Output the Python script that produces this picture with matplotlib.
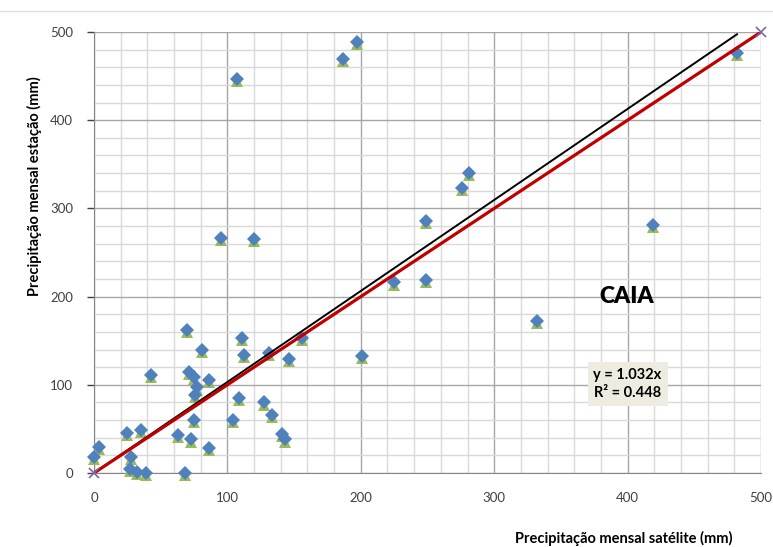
import numpy as np
import matplotlib.pyplot as plt
from matplotlib.lines import Line2D
from matplotlib.transforms import ScaledTranslation

# font close to Calibri
plt.rcParams['font.family'] = ['Lato', 'DejaVu Sans']

# monthly precipitation, satellite (x) vs station (y), mm
satelite = [107, 187, 197, 95, 120, 281, 276, 249, 225, 249, 419, 332, 482, 201,
            69.5, 80.7, 42.5, 71, 75, 86.4, 77, 75.7, 75, 24.5, 35, 63, 72.5, 86.4,
            4, 0, 28, 27, 32, 39, 68,
            110.7, 112.7, 131, 146.4, 155.7, 108.7, 127.7, 104.4, 133.2, 140.7, 143.2]
estacao = [447, 469, 489, 267, 265, 340, 323, 286, 216, 219, 281, 172, 476, 133,
           162, 140, 111, 115, 109, 105, 97, 88, 60, 45, 49, 43, 38, 28,
           30, 18.5, 18, 5, 1.5, 0, 0,
           153, 134, 136, 129, 153, 85, 80, 60, 66, 44, 38]

slope = 1.032
r2 = 0.448
ref_line = [0, 500]  # 1:1 line
ticks = [0, 100, 200, 300, 400, 500]

satelite = np.array(satelite)
estacao = np.array(estacao)

fig = plt.figure(figsize=(7.73, 5.47), dpi=100)
ax = fig.add_axes([94/773, 1-473/547, (761-94)/773, (473-32)/547])

# grid
ax.set_xticks(np.arange(0, 501, 20), minor=True)
ax.set_yticks(np.arange(0, 501, 20), minor=True)
ax.grid(which='minor', color='#d9d9d9', lw=1.0)
ax.grid(which='major', color='#a6a6a6', lw=1.0)
ax.set_axisbelow(True)

# data: green triangles under blue diamonds
shift = ax.transData + ScaledTranslation(0, -1.5/72, fig.dpi_scale_trans)
ax.plot(satelite, estacao, '^', color='#9bbb59', ms=8.5, mew=0, transform=shift, zorder=3, clip_on=False)
ax.plot(satelite, estacao, 'D', color='#4f81bd', ms=7.2, mew=0, zorder=4, clip_on=False)

# lines
xs = np.array([0, satelite.max()])
ax.plot(xs, slope*xs, color='black', lw=1.4, zorder=5)
ax.plot(ref_line, ref_line, color='#c00000', lw=2.3, zorder=5)
ax.plot(ref_line, ref_line, 'x', color='#8064a2', ms=7, mew=1.2, zorder=6, clip_on=False)

ax.set_xlim(0, 500)
ax.set_ylim(0, 500)
ax.set_xticks(ticks)
ax.set_yticks(ticks)
ax.tick_params(which='major', colors='#404040', labelsize=9.5, length=5, width=1, pad=10)
ax.tick_params(which='minor', length=0)
ax.tick_params(axis='x', length=0, pad=14)
for s in ['top', 'right']:
    ax.spines[s].set_visible(False)
for s in ['left', 'bottom']:
    ax.spines[s].set_color('#868686')

ax.text(399, 200, 'CAIA', fontsize=16.5, fontweight='heavy', ha='center', va='center', zorder=7)
ax.text(400, 101, 'y = 1.032x\nR² = 0.448', fontsize=10.5, fontweight='bold', ha='center', va='center',
        linespacing=1.35, zorder=7,
        bbox=dict(boxstyle='square,pad=0.4', fc='#eeece1', ec='none'))

fig.text(624/773, 1-538/547, 'Precipitação mensal satélite (mm)', fontsize=10.5,
         fontweight='bold', ha='center', va='center')
fig.text(34/773, 1-186/547, 'Precipitação mensal estação (mm)', fontsize=10.5,
         fontweight='bold', ha='center', va='center', rotation=90)

fig.add_artist(Line2D([0, 1], [1-11/547, 1-11/547], color='#e0e0e0', lw=1))

fig.savefig('out.png', dpi=100)
